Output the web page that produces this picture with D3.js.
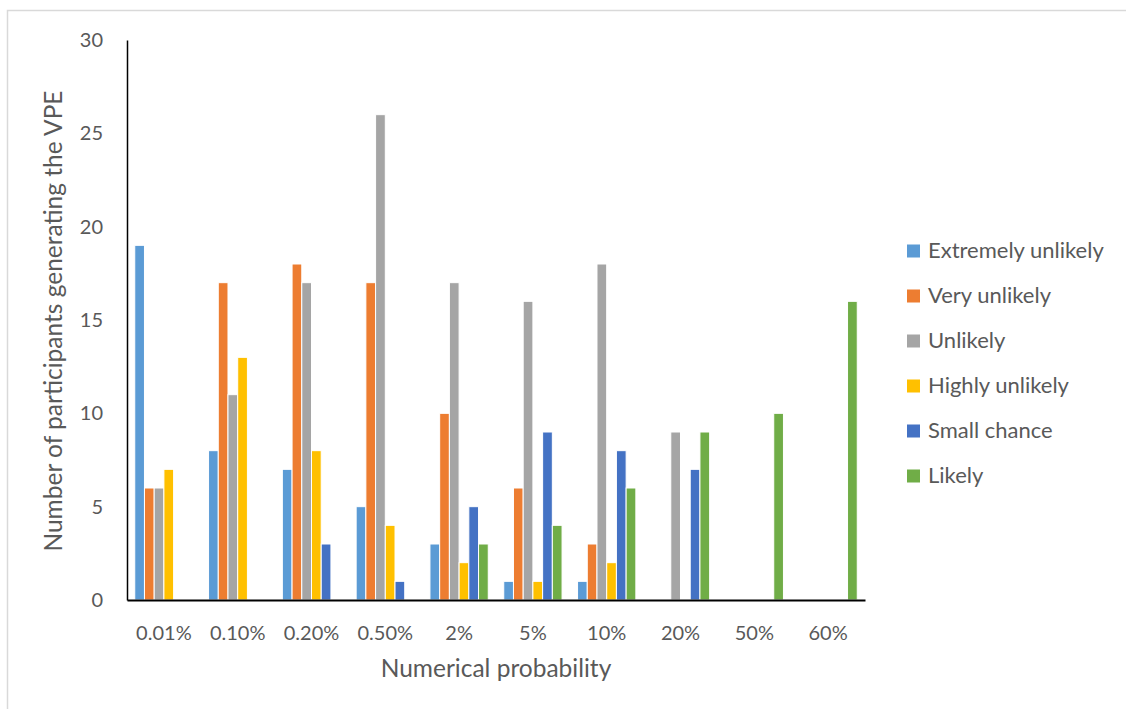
<!DOCTYPE html>
<html>
<head>
<meta charset="utf-8">
<script src="https://cdn.jsdelivr.net/npm/d3@7"></script>
<style>
  html, body { margin: 0; padding: 0; background: #fff; }
  svg { display: block; }
  text { font-family: Lato, "Open Sans", sans-serif; fill: #595959; }
</style>
</head>
<body>
<svg id="chart" width="1126" height="709"></svg>
<script>
// Numerical probability categories
const categories = ["0.01%", "0.10%", "0.20%", "0.50%", "2%", "5%", "10%", "20%", "50%", "60%"];

// Verbal probability expressions (series)
const seriesNames = ["Extremely unlikely", "Very unlikely", "Unlikely", "Highly unlikely", "Small chance", "Likely"];
const seriesColors = ["#5B9BD5", "#ED7D31", "#A5A5A5", "#FFC000", "#4472C4", "#70AD47"];

// Participant counts per series, one value per category
const extremelyUnlikely = [19, 8, 7, 5, 3, 1, 1, 0, 0, 0];
const veryUnlikely      = [6, 17, 18, 17, 10, 6, 3, 0, 0, 0];
const unlikely          = [6, 11, 17, 26, 17, 16, 18, 9, 0, 0];
const highlyUnlikely    = [7, 13, 8, 4, 2, 1, 2, 0, 0, 0];
const smallChance       = [0, 0, 3, 1, 5, 9, 8, 7, 0, 0];
const likely            = [0, 0, 0, 0, 3, 4, 6, 9, 10, 16];

const yTicks = [0, 5, 10, 15, 20, 25, 30];

const seriesValues = [extremelyUnlikely, veryUnlikely, unlikely, highlyUnlikely, smallChance, likely];

const svg = d3.select("#chart");

// Outer chart frame
svg.append("rect")
  .attr("x", 7.5).attr("y", 10.5)
  .attr("width", 1130).attr("height", 720)
  .attr("fill", "none").attr("stroke", "#d9d9d9").attr("stroke-width", 1.5);

const plot = { left: 127, right: 865, top: 40, bottom: 600 };

const x0 = d3.scaleBand()
  .domain(categories)
  .range([plot.left, plot.right])
  .paddingInner(0)
  .paddingOuter(0);

const groupPad = 0.105; // fraction of category width left empty on each side
const x1 = d3.scaleBand()
  .domain(seriesNames)
  .range([x0.bandwidth() * groupPad, x0.bandwidth() * (1 - groupPad)])
  .padding(0);

const y = d3.scaleLinear().domain([0, 30]).range([plot.bottom, plot.top]);

// Bars
const groups = svg.append("g").selectAll("g")
  .data(categories)
  .join("g")
  .attr("transform", d => `translate(${x0(d)},0)`);

groups.selectAll("rect")
  .data((c, ci) => seriesNames.map((s, si) => ({ series: s, color: seriesColors[si], value: seriesValues[si][ci] })))
  .join("rect")
  .filter(d => d.value > 0)
  .attr("x", d => x1(d.series))
  .attr("y", d => y(d.value))
  .attr("width", x1.bandwidth())
  .attr("height", d => y(0) - y(d.value))
  .attr("fill", d => d.color)
  .attr("stroke", "#ffffff")
  .attr("stroke-width", 1);

// Y axis
const yAxis = d3.axisLeft(y).tickValues(yTicks).tickSize(0).tickPadding(24);
const gy = svg.append("g").attr("transform", `translate(${plot.left},0)`).call(yAxis);
gy.select(".domain").attr("stroke", "#000").attr("stroke-width", 1.5);
gy.selectAll(".tick text").attr("font-size", 20).style("fill", "#595959")
  .style("font-family", "Lato, 'Open Sans', sans-serif");

// X axis
const xAxis = d3.axisBottom(x0).tickSize(0).tickPadding(26);
const gx = svg.append("g").attr("transform", `translate(0,${plot.bottom})`).call(xAxis);
gx.select(".domain").attr("stroke", "#000").attr("stroke-width", 2);
gx.selectAll(".tick text").attr("font-size", 20).style("fill", "#595959")
  .style("font-family", "Lato, 'Open Sans', sans-serif");

// Axis titles
svg.append("text")
  .attr("x", (plot.left + plot.right) / 2)
  .attr("y", 671)
  .attr("text-anchor", "middle")
  .attr("dominant-baseline", "middle")
  .attr("font-size", 24.5)
  .text("Numerical probability");

svg.append("text")
  .attr("transform", "translate(56,321) rotate(-90)")
  .attr("text-anchor", "middle")
  .attr("dominant-baseline", "middle")
  .attr("font-size", 24.5)
  .text("Number of participants generating the VPE");

// Legend
const legend = svg.append("g").attr("transform", "translate(907,251)");
const items = legend.selectAll("g")
  .data(seriesNames)
  .join("g")
  .attr("transform", (d, i) => `translate(0,${i * 45})`);
items.append("rect")
  .attr("x", 0).attr("y", -6.5)
  .attr("width", 13).attr("height", 13)
  .attr("fill", (d, i) => seriesColors[i]);
items.append("text")
  .attr("x", 21).attr("y", 1)
  .attr("dominant-baseline", "middle")
  .attr("font-size", 22)
  .text(d => d);
</script>
</body>
</html>
